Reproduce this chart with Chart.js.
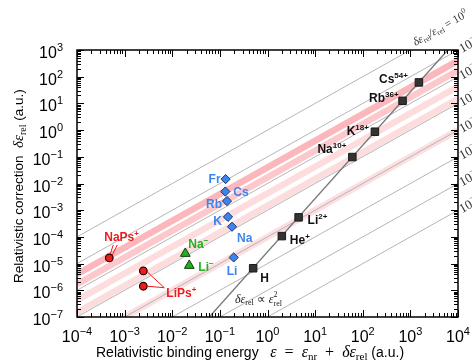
<!DOCTYPE html>
<html>
<head>
<meta charset="utf-8">
<script src="https://cdn.jsdelivr.net/npm/chart.js@4.4.0/dist/chart.umd.min.js"></script>
<style>
  body { margin: 0; background: #fff; }
  #wrap { width: 472px; height: 360px; }
</style>
</head>
<body>
<div id="wrap"><canvas id="myChart" width="472" height="360"></canvas></div>
<script>
// hydrogen-like ions (black squares)
const ionBase   = ['H', 'He', 'Li', 'Na', 'K', 'Rb', 'Cs'];
const ionCharge = ['', '+', '2+', '10+', '18+', '36+', '54+'];
const ionEps    = [0.5, 2.0, 4.5, 60.5, 180, 685, 1510];
const ionDelta  = [6.7e-6, 1.07e-4, 5.4e-4, 0.098, 0.87, 12.5, 61];

// neutral alkali atoms (blue diamonds)
const neutralNames = ['Li', 'Na', 'K', 'Rb', 'Cs', 'Fr'];
const neutralEps   = [0.195, 0.180, 0.148, 0.141, 0.130, 0.132];
const neutralDelta = [1.7e-5, 2.4e-4, 5.6e-4, 2.2e-3, 5.0e-3, 1.46e-2];

// alkali anions (green triangles)
const anionBase  = ['Na', 'Li'];
const anionEps   = [0.0188, 0.0228];
const anionDelta = [2.38e-5, 8.45e-6];

// positronic complexes (red circles)
const psEps   = [4.76e-4, 2.47e-3, 2.47e-3];
const psDelta = [1.63e-5, 5.3e-6, 1.42e-6];

// delta-eps proportional to eps^2 guide line
const hydroLineEps   = [0.06, 6100];
const hydroLineDelta = [1e-7, 1e3];

// guide lines delta/eps = 10^k and pink bands
const lineEnds  = [1e-4, 1e4];
const ratioExps = [0, -1, -2, -3, -4, -5, -6, -7];
const bandExps  = [-1.4, -1.77, -2.37, -2.83, -4.0];

const xTickExps = [-4, -3, -2, -1, 0, 1, 2, 3, 4];
const yTickExps = [-7, -6, -5, -4, -3, -2, -1, 0, 1, 2, 3];

const SANS = '"Liberation Sans", Arial, Helvetica, sans-serif';
const SERIF = '"Liberation Serif", "Times New Roman", serif';
const bandColors = ['rgba(246,95,105,0.45)', 'rgba(246,95,105,0.34)', 'rgba(246,95,105,0.22)',
                    'rgba(246,95,105,0.22)', 'rgba(246,95,105,0.2)'];

function pts(xs, ys) { return xs.map((x, i) => ({x: x, y: ys[i]})); }

const datasets = [];
datasets.push({data: pts(ionEps, ionDelta), pointStyle: 'rect', pointRadius: 5.3,
  backgroundColor: '#333', borderColor: '#1a1a1a', borderWidth: 1});
datasets.push({data: pts(neutralEps, neutralDelta), pointStyle: 'rectRot', pointRadius: 4.6,
  backgroundColor: '#3b84f2', borderColor: '#1c3566', borderWidth: 1});
datasets.push({data: pts(anionEps, anionDelta), pointStyle: 'triangle', pointRadius: 5.6,
  backgroundColor: '#22b022', borderColor: '#0b3d0b', borderWidth: 1});
datasets.push({data: pts(psEps, psDelta), pointStyle: 'circle', pointRadius: 3.8,
  backgroundColor: '#ee1c1c', borderColor: '#220000', borderWidth: 1.2});
datasets.push({data: pts(hydroLineEps, hydroLineDelta), showLine: true, borderColor: '#777',
  borderWidth: 1.3, pointRadius: 0, clip: 0});
ratioExps.forEach(k => datasets.push({data: pts(lineEnds, lineEnds.map(x => x * Math.pow(10, k))),
  showLine: true, borderColor: '#b5b5b5', borderWidth: 1, pointRadius: 0, clip: 0}));
bandExps.forEach((k, i) => datasets.push({data: pts(lineEnds, lineEnds.map(x => x * Math.pow(10, k))),
  showLine: true, borderColor: bandColors[i], borderWidth: 6.5, pointRadius: 0, clip: 0}));

// label placement relative to marker pixel: [dx, dy, align]
const ionLabelPos = [[7, 14, 'left'], [8, 8, 'left'], [9, 7, 'left'], [-6, -4, 'right'],
                     [-6, 3, 'right'], [-4, 1, 'right'], [-11, 1, 'right']];
const neutralLabelPos = [[-7, 18, 'left'], [5, 15, 'left'], [-6, 8.5, 'right'],
                         [-5, 7, 'right'], [8, 4, 'left'], [-5, 3.5, 'right']];
const anionLabelPos = [[3, -6, 'left'], [9, 5, 'left']];

function rich(c, parts, x, y, align) {
  let w = 0;
  parts.forEach(p => { c.font = p.f; p.w = p.adv === false ? 0 : c.measureText(p.t).width; w += p.w; });
  let cx = align === 'right' ? x - w : align === 'center' ? x - w / 2 : x;
  parts.forEach(p => { c.font = p.f; c.fillText(p.t, cx, y + (p.dy || 0)); cx += p.w; });
  return w;
}
function chem(base, sup) {
  const parts = [{t: base, f: 'bold 12px ' + SANS}];
  if (sup) parts.push({t: sup, f: 'bold 8px ' + SANS, dy: -5});
  return parts;
}
function pow10(e, big, small, font, rise) {
  return [{t: '10', f: big + 'px ' + font},
          {t: e < 0 ? '\u2212' + (-e) : '' + e, f: small + 'px ' + font, dy: -rise}];
}

const decor = {
  id: 'decor',
  afterDraw(chart) {
    const c = chart.ctx, xs = chart.scales.x, ys = chart.scales.y, a = chart.chartArea;
    const X = v => xs.getPixelForValue(v), Y = v => ys.getPixelForValue(v);
    c.save();
    c.textBaseline = 'alphabetic';

    // frame with inward ticks
    c.strokeStyle = '#000';
    c.lineWidth = 1.5;
    c.strokeRect(a.left, a.top, a.right - a.left, a.bottom - a.top);
    c.lineWidth = 1;
    c.beginPath();
    xTickExps.forEach(e => {
      for (let m = 1; m < 10; m++) {
        const v = m * Math.pow(10, e);
        if (v > xs.max * 1.001) break;
        const px = Math.round(X(v)) + 0.5, len = m === 1 ? 7 : 4;
        c.moveTo(px, a.bottom); c.lineTo(px, a.bottom - len);
        c.moveTo(px, a.top); c.lineTo(px, a.top + len);
      }
    });
    yTickExps.forEach(e => {
      for (let m = 1; m < 10; m++) {
        const v = m * Math.pow(10, e);
        if (v > ys.max * 1.001) break;
        const py = Math.round(Y(v)) + 0.5, len = m === 1 ? 7 : 4;
        c.moveTo(a.left, py); c.lineTo(a.left + len, py);
        c.moveTo(a.right, py); c.lineTo(a.right - len, py);
      }
    });
    c.stroke();

    // tick labels
    c.fillStyle = '#000';
    xTickExps.forEach(e => rich(c, pow10(e, 16, 11, SANS, 7), X(Math.pow(10, e)), a.bottom + 25, 'center'));
    yTickExps.forEach(e => rich(c, pow10(e, 16, 11, SANS, 7), a.left - 14, Y(Math.pow(10, e)) + 8, 'right'));

    // axis titles
    rich(c, [{t: 'Relativistic binding energy   ', f: '14px ' + SANS},
             {t: '\u03b5', f: 'italic 16px ' + SERIF}, {t: '  =  ', f: '16px ' + SERIF},
             {t: '\u03b5', f: 'italic 16px ' + SERIF}, {t: 'nr', f: '11px ' + SERIF, dy: 3},
             {t: '  +  ', f: '16px ' + SERIF}, {t: '\u03b4\u03b5', f: 'italic 16px ' + SERIF},
             {t: 'rel', f: '11px ' + SERIF, dy: 3},
             {t: ' (a.u.)', f: '14px ' + SANS}], 96, 357, 'left');
    c.save();
    c.translate(23, 283);
    c.rotate(-Math.PI / 2);
    rich(c, [{t: 'Relativistic correction  ', f: '13.5px ' + SANS},
             {t: '\u03b4\u03b5', f: 'italic 15px ' + SERIF}, {t: 'rel', f: '10px ' + SERIF, dy: 3},
             {t: ' (a.u.)', f: '13.5px ' + SANS}], 0, 0, 'left');
    c.restore();

    // ratio line labels
    const ang = Math.atan2(Y(1) - Y(10), X(10) - X(1));
    c.fillStyle = '#333';
    c.save();
    c.translate(X(1e3) + 5, a.top - 4);
    c.rotate(-ang);
    rich(c, [{t: '\u03b4\u03b5', f: 'italic 11.5px ' + SERIF}, {t: 'rel', f: '7.5px ' + SERIF, dy: 2},
             {t: '/\u03b5', f: 'italic 11.5px ' + SERIF}, {t: 'rel', f: '7.5px ' + SERIF, dy: 2},
             {t: ' = 10', f: '11.5px ' + SERIF}, {t: '0', f: '8px ' + SERIF, dy: -5}], 0, 0, 'left');
    c.restore();
    ratioExps.forEach(k => {
      if (k === 0) return;
      c.save();
      c.translate(a.right + 4, Y(1e4 * Math.pow(10, k)) + 3);
      c.rotate(-ang);
      rich(c, pow10(k, 13, 9, SERIF, 6), 0, 0, 'left');
      c.restore();
    });

    // guide line label
    c.fillStyle = '#222';
    rich(c, [{t: '\u03b4\u03b5', f: 'italic 12px ' + SERIF}, {t: 'rel', f: '8px ' + SERIF, dy: 2},
             {t: ' \u221d ', f: '12px ' + SERIF}, {t: '\u03b5', f: 'italic 12px ' + SERIF},
             {t: '2', f: '8px ' + SERIF, dy: -6, adv: false}, {t: 'rel', f: '8px ' + SERIF, dy: 3}],
         235, 303, 'left');

    // point labels
    c.fillStyle = '#111';
    ionBase.forEach((b, i) => {
      const p = ionLabelPos[i];
      rich(c, chem(b, ionCharge[i]), X(ionEps[i]) + p[0], Y(ionDelta[i]) + p[1], p[2]);
    });
    c.fillStyle = '#3b84f2';
    neutralNames.forEach((n, i) => {
      const p = neutralLabelPos[i];
      rich(c, chem(n, ''), X(neutralEps[i]) + p[0], Y(neutralDelta[i]) + p[1], p[2]);
    });
    c.fillStyle = '#22b022';
    anionBase.forEach((n, i) => {
      const p = anionLabelPos[i];
      rich(c, chem(n, '\u2212'), X(anionEps[i]) + p[0], Y(anionDelta[i]) + p[1], p[2]);
    });

    // positronic labels with connectors
    c.fillStyle = '#ee1c1c';
    c.strokeStyle = '#ee1c1c';
    c.lineWidth = 1;
    const nx = X(psEps[0]), ny = Y(psDelta[0]);
    rich(c, chem('NaPs', '+'), nx - 5, ny - 17, 'left');
    c.beginPath();
    c.moveTo(nx + 4, ny - 13); c.lineTo(nx + 1, ny - 4);
    c.moveTo(nx + 8, ny - 13); c.lineTo(nx + 3, ny - 3);
    const lx = X(psEps[2]), ly = Y(psDelta[2]), ux = X(psEps[1]), uy = Y(psDelta[1]);
    rich(c, chem('LiPs', '+'), lx + 23, ly + 10.5, 'left');
    c.moveTo(lx + 21, ly + 1.5); c.lineTo(ux + 4, uy + 1);
    c.moveTo(lx + 21, ly + 1.5); c.lineTo(lx + 4, ly);
    c.stroke();
    c.restore();
  }
};

new Chart(document.getElementById('myChart'), {
  type: 'scatter',
  data: {datasets: datasets},
  options: {
    responsive: false,
    animation: false,
    devicePixelRatio: 1,
    events: [],
    layout: {padding: {top: 50, right: 14, left: 0, bottom: 0}},
    plugins: {legend: {display: false}, tooltip: {enabled: false}},
    scales: {
      x: {type: 'logarithmic', position: 'bottom', min: 1e-4, max: 1e4,
          grid: {display: false}, border: {display: false}, ticks: {display: false},
          afterFit: s => { s.height = 43; }},
      y: {type: 'logarithmic', position: 'left', min: 1e-7, max: 1e3,
          grid: {display: false}, border: {display: false}, ticks: {display: false},
          afterFit: s => { s.width = 77; }}
    }
  },
  plugins: [decor]
});
</script>
</body>
</html>
